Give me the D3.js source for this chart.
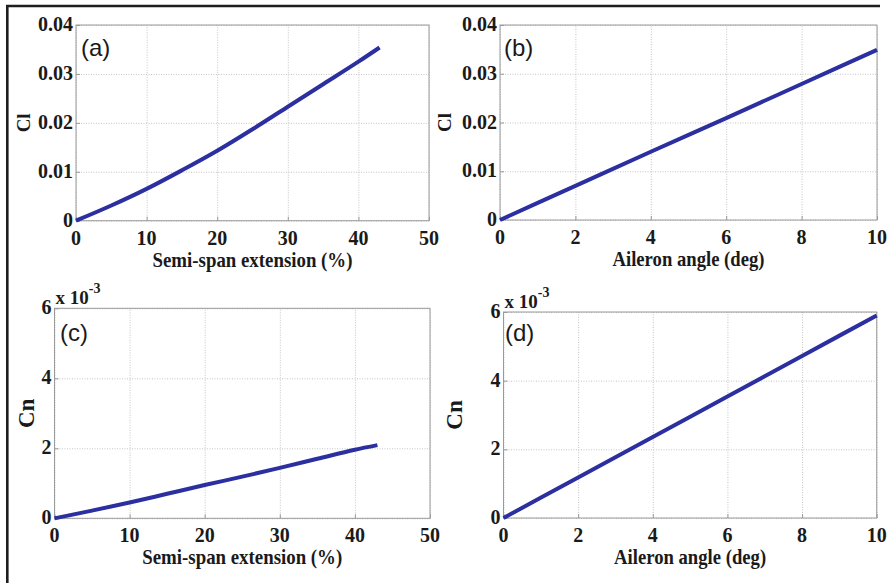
<!DOCTYPE html>
<html>
<head>
<meta charset="utf-8">
<script src="https://cdn.jsdelivr.net/npm/d3@7"></script>
<style>
  body { margin: 0; background: #fff; }
  svg { display: block; }
</style>
</head>
<body>
<svg id="chart" width="888" height="583"></svg>
<script>
// valori
const extSpan = [0, 5, 10, 15, 20, 25, 30, 35, 40, 43];
const clSpan = [0, 0.0031, 0.0065, 0.0103, 0.0143, 0.0187, 0.0233, 0.0279, 0.0325, 0.0354];
const cnSpan = [0, 0.22, 0.45, 0.70, 0.95, 1.19, 1.44, 1.70, 1.96, 2.09]; // x 10^-3

const aileronAngle = [0, 2, 4, 6, 8, 10];
const clAileron = [0, 0.007, 0.014, 0.0209, 0.0279, 0.0349];
const cnAileron = [0, 1.18, 2.36, 3.54, 4.72, 5.9]; // x 10^-3

const xTicksSpan = [0, 10, 20, 30, 40, 50];
const xTicksAngle = [0, 2, 4, 6, 8, 10];
const yTicksCl = [0, 0.01, 0.02, 0.03, 0.04];
const yTicksCn = [0, 2, 4, 6];

const SERIF = "'Liberation Serif', 'Times New Roman', Times, serif";
const SANS = "'Liberation Sans', Arial, sans-serif";

const svg = d3.select("#chart");

// cornice esterna (solo sopra e a sinistra)
svg.append("line").attr("x1", 6).attr("y1", 6).attr("x2", 880).attr("y2", 6)
    .attr("stroke", "#1e1e1e").attr("stroke-width", 2.6);
svg.append("line").attr("x1", 7.3).attr("y1", 5).attr("x2", 7.3).attr("y2", 583)
    .attr("stroke", "#1e1e1e").attr("stroke-width", 2.6);

const panels = [
    { tag: "(a)", xs: extSpan, ys: clSpan, xDom: [0, 50], yDom: [0, 0.04], xTicks: xTicksSpan, yTicks: yTicksCl,
      box: [76, 25, 429, 220.7], xTitle: "Semi-span extension (%)", xTitleW: 200, yTitle: "Cl", yTitleX: 30, yTitleSize: 19,
      tagPos: [81, 56] },
    { tag: "(b)", xs: aileronAngle, ys: clAileron, xDom: [0, 10], yDom: [0, 0.04], xTicks: xTicksAngle, yTicks: yTicksCl,
      box: [500, 25, 877, 220], xTitle: "Aileron angle (deg)", xTitleW: 152, yTitle: "Cl", yTitleX: 451, yTitleSize: 19,
      tagPos: [504, 56] },
    { tag: "(c)", xs: extSpan, ys: cnSpan, xDom: [0, 50], yDom: [0, 6], xTicks: xTicksSpan, yTicks: yTicksCn,
      box: [54.5, 308.3, 430, 518.3], xTitle: "Semi-span extension (%)", xTitleW: 200, yTitle: "Cn", yTitleX: 34, yTitleSize: 23,
      tagPos: [60, 341], exp: true },
    { tag: "(d)", xs: aileronAngle, ys: cnAileron, xDom: [0, 10], yDom: [0, 6], xTicks: xTicksAngle, yTicks: yTicksCn,
      box: [503.5, 312, 876.7, 518], xTitle: "Aileron angle (deg)", xTitleW: 152, yTitle: "Cn", yTitleX: 462, yTitleSize: 23,
      tagPos: [505, 341], exp: true }
];

panels.forEach(p => drawPanel(p));

function drawPanel(p) {
    const [x0, y0, x1, y1] = p.box;
    const x = d3.scaleLinear().domain(p.xDom).range([x0, x1]);
    const y = d3.scaleLinear().domain(p.yDom).range([y1, y0]);
    const g = svg.append("g");

    g.append("rect").attr("x", x0).attr("y", y0).attr("width", x1 - x0).attr("height", y1 - y0)
        .attr("fill", "#fff");

    // griglia tratteggiata
    g.append("g")
        .attr("transform", `translate(0,${y1})`)
        .call(d3.axisBottom(x).tickValues(p.xTicks).tickSize(-(y1 - y0)).tickFormat(""))
        .call(a => a.select(".domain").remove())
        .selectAll("line").attr("stroke", "#c4c4c4").attr("stroke-dasharray", "1,1.5");
    g.append("g")
        .attr("transform", `translate(${x0},0)`)
        .call(d3.axisLeft(y).tickValues(p.yTicks).tickSize(-(x1 - x0)).tickFormat(""))
        .call(a => a.select(".domain").remove())
        .selectAll("line").attr("stroke", "#c4c4c4").attr("stroke-dasharray", "1,1.5");

    // tacche interne
    g.append("g")
        .attr("transform", `translate(0,${y1})`)
        .call(d3.axisTop(x).tickValues(p.xTicks).tickSize(4).tickFormat(""))
        .call(a => a.select(".domain").remove())
        .selectAll("line").attr("stroke", "#999");
    g.append("g")
        .attr("transform", `translate(${x0},0)`)
        .call(d3.axisRight(y).tickValues(p.yTicks).tickSize(4).tickFormat(""))
        .call(a => a.select(".domain").remove())
        .selectAll("line").attr("stroke", "#999");

    g.append("rect").attr("x", x0).attr("y", y0).attr("width", x1 - x0).attr("height", y1 - y0)
        .attr("fill", "none").attr("stroke", "#9a9a9a").attr("stroke-width", 1);

    // etichette delle tacche
    g.selectAll(".xl").data(p.xTicks).enter().append("text")
        .style("font-family", SERIF).style("font-weight", "bold").style("font-size", "20px")
        .attr("fill", "#1a1a1a")
        .attr("x", d => x(d)).attr("y", y1 + 24)
        .attr("text-anchor", "middle")
        .text(d => d);
    g.selectAll(".yl").data(p.yTicks).enter().append("text")
        .style("font-family", SERIF).style("font-weight", "bold").style("font-size", "20px")
        .attr("fill", "#1a1a1a")
        .attr("x", x0 - 3).attr("y", d => y(d) + 6)
        .attr("text-anchor", "end")
        .text(d => d);

    if (p.exp) {
        const e = g.append("text")
            .style("font-family", SERIF).style("font-weight", "bold")
            .attr("fill", "#1a1a1a")
            .attr("x", x0 + 1).attr("y", y0 - 4);
        e.append("tspan").style("font-size", "19px").text("x 10");
        e.append("tspan").attr("dy", -11).style("font-size", "14px").text("-3");
    }

    // titoli
    g.append("text")
        .style("font-family", SERIF).style("font-weight", "bold").style("font-size", "22px")
        .attr("fill", "#1a1a1a")
        .attr("x", (x0 + x1) / 2).attr("y", y1 + 46)
        .attr("text-anchor", "middle")
        .attr("textLength", p.xTitleW).attr("lengthAdjust", "spacingAndGlyphs")
        .text(p.xTitle);
    g.append("text")
        .style("font-family", SERIF).style("font-weight", "bold").style("font-size", p.yTitleSize + "px")
        .attr("fill", "#1a1a1a")
        .attr("transform", `translate(${p.yTitleX},${(y0 + y1) / 2}) rotate(-90)`)
        .attr("text-anchor", "middle")
        .text(p.yTitle);

    g.append("text")
        .style("font-family", SANS).style("font-size", "24px")
        .attr("fill", "#1a1a1a")
        .attr("x", p.tagPos[0]).attr("y", p.tagPos[1])
        .text(p.tag);

    const line = d3.line().x((d, i) => x(p.xs[i])).y(d => y(d)).curve(d3.curveMonotoneX);
    g.append("path")
        .datum(p.ys)
        .attr("d", line)
        .attr("fill", "none")
        .attr("stroke", "#2b2f9f")
        .attr("stroke-width", 4)
        .attr("stroke-linecap", "butt");
}
</script>
</body>
</html>
